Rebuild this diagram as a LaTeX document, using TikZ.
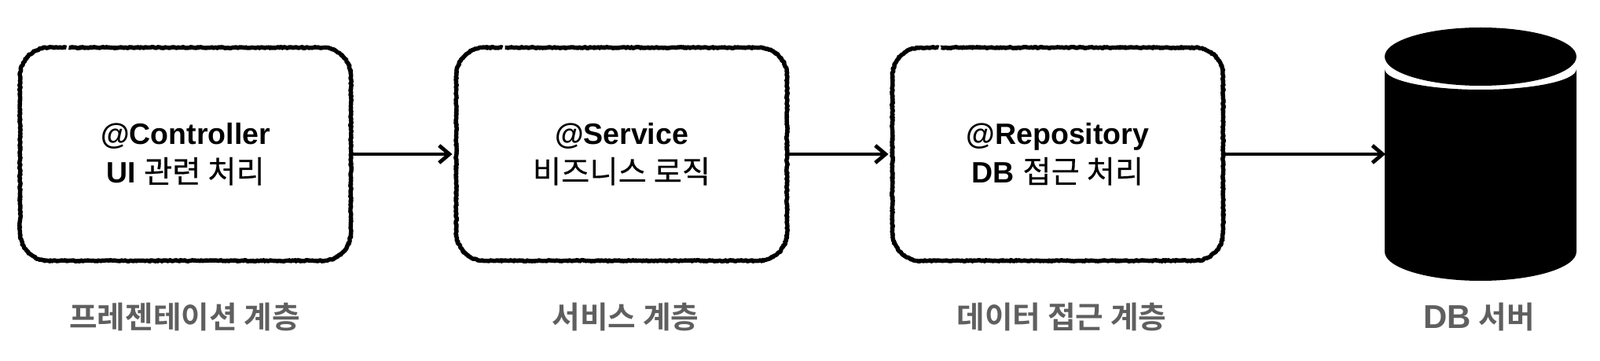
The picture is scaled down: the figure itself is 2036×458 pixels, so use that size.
\documentclass[tikz,border=0pt]{standalone}
\usepackage{fontspec}
\setmainfont{Liberation Sans}
\usetikzlibrary{decorations.pathmorphing,arrows.meta,calc}
\newfontfamily\ko{Noto Sans CJK KR}[Scale=1.05,FakeBold=0.2]
\newfontfamily\kob{Noto Sans CJK KR}[Scale=1.05,FakeBold=0.5]
\newfontfamily\koc{Noto Sans CJK KR Bold}[Scale=1.06]
\definecolor{capt}{HTML}{5F5F5F}
\tikzset{
 x=1pt,y=1pt,
 layerbox/.style={rectangle,minimum width=421pt,minimum height=271pt,inner sep=0pt,outer sep=0pt,align=center,font=\fontsize{37.5}{49}\selectfont},
 roughline/.style={draw=black,line width=5.4pt,line join=round,line cap=butt,decorate,decoration={random steps,segment length=1.4pt,amplitude=.8pt}},
 link/.style={draw=black,line width=4.8pt,-{Straight Barb[length=13pt,width=22pt,line width=4.8pt]}},
 capt/.style={font=\fontsize{36.5}{44}\selectfont,text=capt,inner sep=0pt},
}
\newcommand{\roughbox}[1]{%
 \draw[roughline] ($(#1.north west)+(62,0)$) -- ($(#1.north east)+(-36,0)$)
   arc[start angle=90,end angle=0,radius=36]
   -- ($(#1.south east)+(0,36)$) arc[start angle=0,end angle=-90,radius=36]
   -- ($(#1.south west)+(36,0)$) arc[start angle=-90,end angle=-180,radius=36]
   -- ($(#1.north west)+(0,-36)$) arc[start angle=180,end angle=90,radius=36]
   -- ($(#1.north west)+(59,0)$);
}
\begin{document}
\begin{tikzpicture}
\useasboundingbox (0,0) rectangle (2036,458);
\node[layerbox] (c) at (236,262) {\textbf{@Controller}\\\textbf{UI} {\kob 관련 처리}};
\node[layerbox] (s) at (791,262) {\textbf{@Service}\\{\ko 비즈니스 로직}};
\node[layerbox] (r) at (1346,262) {\textbf{@Repository}\\\textbf{DB} {\ko 접근 처리}};
\roughbox{c}
\roughbox{s}
\roughbox{r}
\fill[black] (1762,370) -- (1762,138) arc[start angle=180,end angle=360,x radius=122,y radius=37] -- (2006,370) arc[start angle=0,end angle=-180,x radius=122,y radius=26] -- cycle;
\fill[black] (1884,386) ellipse[x radius=122,y radius=37];
\coordinate (db) at (1763,262);
\draw[link,shorten >=5pt] (c) -- (s);
\draw[link,shorten >=5pt] (s) -- (r);
\draw[link] (r) -- (db);
\node[capt] (l1) at (235,55) {\koc 프레젠테이션 계층};
\node[capt] (l2) at (796,55) {\koc 서비스 계층};
\node[capt] (l3) at (1351,55) {\koc 데이터 접근 계층};
\node[capt] (l4) at (1882,55) {{\fontsize{42}{44}\selectfont\bfseries DB} {\koc 서버}};
\end{tikzpicture}
\end{document}
